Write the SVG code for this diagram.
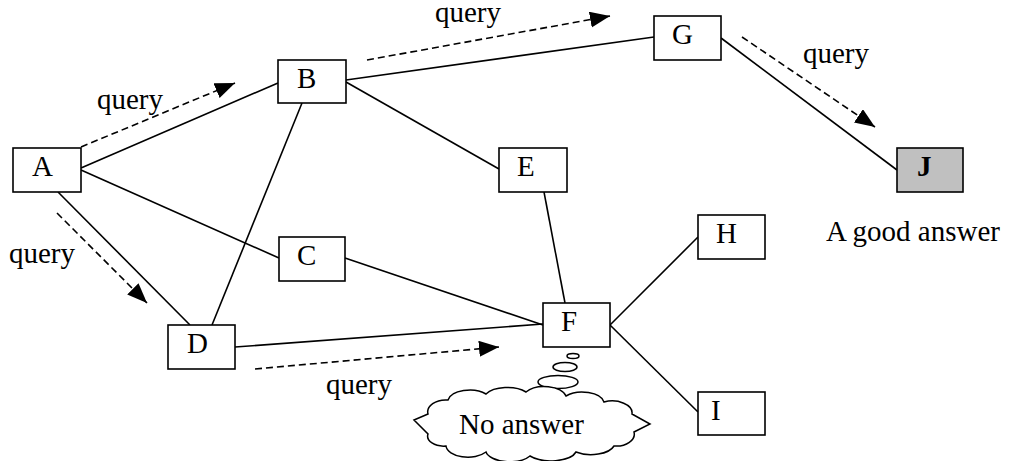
<svg xmlns="http://www.w3.org/2000/svg" width="1010" height="461" viewBox="0 0 1010 461">
<style>
.box{fill:#fff;stroke:#000;stroke-width:1.6}
.lbl{font-family:"Liberation Serif","Times New Roman",serif;font-size:29px;fill:#000}
.edge{stroke:#000;stroke-width:1.6;fill:none}
.q{stroke:#000;stroke-width:1.6;fill:none;stroke-dasharray:7 4}
.thought{fill:#fff;stroke:#000;stroke-width:1.5}
</style>
<defs>
<marker id="ah" markerUnits="userSpaceOnUse" markerWidth="22" markerHeight="18" refX="20" refY="8" orient="auto">
<path d="M0,0 L20,8 L0,16 Z" fill="#000"/>
</marker>
</defs>
<rect width="1010" height="461" fill="#fff"/>
<g id="connectors">
<line class="edge" x1="81" y1="168" x2="278" y2="83"/>
<line class="edge" x1="81" y1="170" x2="279" y2="258"/>
<line class="edge" x1="58" y1="192" x2="190" y2="325"/>
<line class="edge" x1="212" y1="325" x2="302" y2="103"/>
<line class="edge" x1="346" y1="80" x2="654" y2="37"/>
<line class="edge" x1="346" y1="82" x2="499" y2="169"/>
<line class="edge" x1="721" y1="38" x2="897" y2="170"/>
<line class="edge" x1="345" y1="258" x2="543" y2="325"/>
<line class="edge" x1="235" y1="347" x2="543" y2="324"/>
<line class="edge" x1="544" y1="192" x2="565" y2="303"/>
<line class="edge" x1="610" y1="325" x2="698" y2="237"/>
<line class="edge" x1="610" y1="325" x2="698" y2="412"/>
<line class="q" x1="81" y1="147" x2="235" y2="83" marker-end="url(#ah)"/>
<line class="q" x1="57" y1="213" x2="147" y2="303" marker-end="url(#ah)"/>
<line class="q" x1="367" y1="60" x2="610" y2="16" marker-end="url(#ah)"/>
<line class="q" x1="742" y1="37" x2="875" y2="127" marker-end="url(#ah)"/>
<line class="q" x1="255" y1="369" x2="499" y2="347" marker-end="url(#ah)"/>
<text class="lbl" x="97" y="109">query</text>
<text class="lbl" x="9" y="263">query</text>
<text class="lbl" x="435" y="22">query</text>
<text class="lbl" x="803" y="63">query</text>
<text class="lbl" x="326" y="394">query</text>
</g>
<g id="node-A"><rect class="box" x="13" y="148" width="68" height="44"/><text class="lbl" x="32" y="176">A</text></g>
<g id="node-B"><rect class="box" x="278" y="60" width="68" height="43"/><text class="lbl" x="297" y="88">B</text></g>
<g id="node-C"><rect class="box" x="279" y="237" width="66" height="44"/><text class="lbl" x="297" y="265">C</text></g>
<g id="node-D"><rect class="box" x="168" y="325" width="67" height="44"/><text class="lbl" x="187" y="353">D</text></g>
<g id="node-E"><rect class="box" x="499" y="148" width="68" height="44"/><text class="lbl" x="517" y="176">E</text></g>
<g id="node-F"><rect class="box" x="543" y="303" width="67" height="44"/><text class="lbl" x="561" y="331">F</text></g>
<g id="node-G"><rect class="box" x="654" y="16" width="67" height="44"/><text class="lbl" x="672" y="44">G</text></g>
<g id="node-H"><rect class="box" x="698" y="215" width="67" height="44"/><text class="lbl" x="716" y="243">H</text></g>
<g id="node-I"><rect class="box" x="698" y="392" width="67" height="43"/><text class="lbl" x="711" y="420">I</text></g>
<g id="node-J"><rect class="box" x="897" y="148" width="66" height="44" style="fill:#c0c0c0"/><text class="lbl" x="917" y="176" font-weight="bold">J</text></g>
<text class="lbl" x="826" y="241">A good answer</text>
<g id="cloud">
<ellipse class="thought" cx="573" cy="356" rx="6" ry="2.5"/>
<ellipse class="thought" cx="565" cy="367" rx="12" ry="4.5"/>
<ellipse class="thought" cx="558" cy="382" rx="20" ry="6.5"/>
<path class="thought" d="M414,420 L428,414 A18,12 0 0 1 448,400 A22,12 0 0 1 486,394 A24,12 0 0 1 526,392 A22,12 0 0 1 566,396 A22,12 0 0 1 604,402 A20,12 0 0 1 632,414 L650,424 L634,432 A18,12 0 0 1 614,446 A24,12 0 0 1 576,452 A26,12 0 0 1 530,456 A24,12 0 0 1 486,452 A22,12 0 0 1 446,446 A16,10 0 0 1 428,434 Z"/>
<text class="lbl" x="459" y="434">No answer</text>
</g>
</svg>
